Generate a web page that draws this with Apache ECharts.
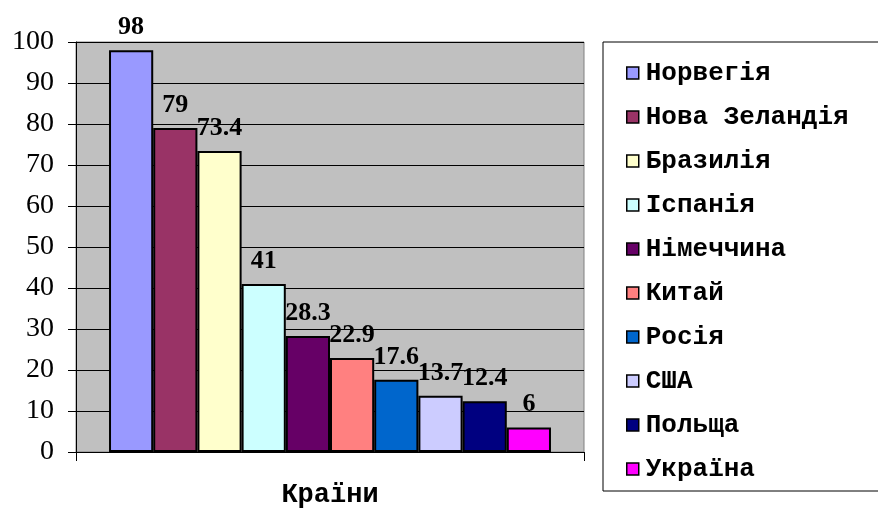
<!DOCTYPE html>
<html>
<head>
<meta charset="utf-8">
<script src="https://cdn.jsdelivr.net/npm/echarts@6/dist/echarts.min.js"></script>
<style>
html,body{margin:0;padding:0;background:#fff;}
#c{width:878px;height:509px;}
</style>
</head>
<body>
<div id="c"></div>
<script>
const countries = ['Норвегія','Нова Зеландія','Бразилія','Іспанія','Німеччина','Китай','Росія','США','Польща','Україна'];
const values = [98, 79, 73.4, 41, 28.3, 22.9, 17.6, 13.7, 12.4, 6];
const colors = ['#9999FF','#993366','#FFFFCC','#CCFFFF','#660066','#FF8080','#0066CC','#CCCCFF','#000080','#FF00FF'];
const yTicks = [0,10,20,30,40,50,60,70,80,90,100];
const axisTitle = 'Країни';

const serif = '"Times New Roman", "Liberation Serif", serif';
const mono = '"Courier New", "Liberation Mono", monospace';

const chart = echarts.init(document.getElementById('c'), null, {renderer:'canvas'});
const series = countries.map((name, i) => ({
  name: name,
  type: 'bar',
  data: [values[i]],
  barGap: '0%',
  barCategoryGap: '13%',
  itemStyle: {color: colors[i], borderColor: '#000', borderWidth: 2},
  label: {
    show: true, position: 'top', distance: 10,
    fontFamily: serif, fontWeight: 'bold', fontSize: 26, color: '#000'
  },
  emphasis: {disabled: true}
}));

chart.setOption({
  animation: false,
  backgroundColor: '#fff',
  grid: {left: 76, right: 294, top: 42, bottom: 57, containLabel: false, outerBoundsMode: 'none',
         show: true, backgroundColor: '#C0C0C0', borderColor: '#808080', borderWidth: 1},
  xAxis: {
    type: 'category',
    data: [''],
    name: axisTitle,
    nameLocation: 'middle',
    nameGap: 30,
    nameTextStyle: {fontFamily: mono, fontWeight: 'bold', fontSize: 27, color: '#000'},
    axisLine: {lineStyle: {color: '#000', width: 1}},
    axisTick: {show: true, length: 9, lineStyle: {color: '#000'}},
    axisLabel: {show: false}
  },
  yAxis: {
    type: 'value',
    min: yTicks[0],
    max: yTicks[yTicks.length - 1],
    interval: 10,
    axisLine: {show: true, lineStyle: {color: '#000', width: 1}},
    axisTick: {show: true, length: 8, lineStyle: {color: '#000'}},
    axisLabel: {fontFamily: serif, fontSize: 28, color: '#000', margin: 22},
    splitLine: {show: true, lineStyle: {color: '#000', width: 1}}
  },
  legend: {
    orient: 'vertical',
    left: 603,
    top: 42,
    padding: [18, 60, 9, 23],
    itemWidth: 12,
    itemHeight: 12,
    itemGap: 18,
    icon: 'rect',
    borderColor: '#000',
    borderWidth: 1,
    textStyle: {fontFamily: mono, fontWeight: 'bold', fontSize: 26, color: '#000', padding: [0,0,0,2]},
    itemStyle: {borderColor: '#000', borderWidth: 1.5},
    selectedMode: false,
    data: countries
  },
  series: series
});
</script>
</body>
</html>
